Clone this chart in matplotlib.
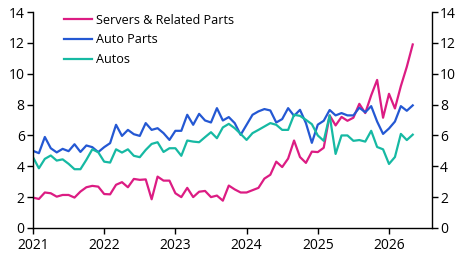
import matplotlib
matplotlib.use("Agg")
import matplotlib.pyplot as plt
import numpy as np

plt.rcParams['font.family'] = ['Open Sans', 'DejaVu Sans']

# Monthly, Jan 2021 .. May 2026
servers = [1.97, 1.88, 2.3, 2.25, 2.03, 2.14, 2.14, 1.97, 2.36, 2.64, 2.73, 2.68,
           2.2, 2.18, 2.8, 2.97, 2.64, 3.18, 3.12, 3.15, 1.86, 3.33, 3.07, 3.07,
           2.25, 2.0, 2.6, 2.0, 2.35, 2.4, 2.0, 2.1, 1.77, 2.75, 2.5, 2.3,
           2.3, 2.45, 2.6, 3.2, 3.45, 4.3, 3.95, 4.5, 5.67, 4.6, 4.22, 4.95,
           4.92, 5.2, 7.3, 6.65, 7.2, 6.95, 7.15, 8.05, 7.45, 8.6, 9.6, 7.15,
           8.7, 7.75, 9.2, 10.45, 11.9]
auto_parts = [5.0, 4.85, 5.9, 5.17, 4.9, 5.13, 4.98, 5.43, 4.93, 5.35, 5.24, 4.92,
              5.24, 5.5, 6.69, 5.97, 6.36, 6.08, 5.97, 6.8, 6.36, 6.47, 6.15, 5.71,
              6.3, 6.3, 7.34, 6.69, 7.4, 6.97, 6.84, 7.77, 6.97, 7.19, 6.8, 6.04,
              6.69, 7.34, 7.56, 7.71, 7.62, 6.84, 7.06, 7.77, 7.27, 7.66, 6.8, 5.52,
              6.7, 6.95, 7.65, 7.3, 7.45, 7.3, 7.3, 7.8, 7.5, 7.9, 6.9, 6.1,
              6.45, 6.9, 7.9, 7.6, 7.95]
autos = [4.59, 3.87, 4.48, 4.7, 4.37, 4.45, 4.16, 3.81, 3.81, 4.42, 5.1, 4.91,
         4.3, 4.24, 5.1, 4.89, 5.1, 4.68, 4.59, 5.06, 5.45, 5.56, 4.93, 5.17,
         5.17, 4.68, 5.67, 5.6, 5.56, 5.89, 6.21, 5.82, 6.52, 6.75, 6.47, 6.1,
         5.71, 6.15, 6.36, 6.58, 6.8, 6.69, 6.36, 6.36, 7.34, 7.27, 7.01, 6.73,
         6.0, 5.65, 7.3, 4.8, 6.0, 6.0, 5.65, 5.7, 5.6, 6.3, 5.25, 5.1,
         4.15, 4.6, 6.1, 5.7, 6.05]
years = ["2021", "2022", "2023", "2024", "2025", "2026"]
yticks = [0, 2, 4, 6, 8, 10, 12, 14]

c_serv = "#DC1C83"
c_ap = "#2458D3"
c_au = "#16B9A3"

fig = plt.figure(figsize=(4.71, 2.57), dpi=100)
ax = fig.add_axes([0.070, 0.113, 0.8466, 0.840])
x = np.arange(len(servers))
ax.plot(x, servers, color=c_serv, lw=1.6, label="Servers & Related Parts")
ax.plot(x, auto_parts, color=c_ap, lw=1.6, label="Auto Parts")
ax.plot(x, autos, color=c_au, lw=1.6, label="Autos")

ax.set_xlim(0, 67.2)
ax.set_ylim(0, 14)
ax.set_yticks(yticks)
ax.set_xticks([12 * i for i in range(len(years))])
ax.set_xticklabels(years)
ax.spines['top'].set_visible(False)
for s in ['left', 'right', 'bottom']:
    ax.spines[s].set_linewidth(1.0)
    ax.spines[s].set_color('black')
ax.tick_params(axis='both', direction='out', length=4, width=1.0, labelsize=10, colors='black')
ax.tick_params(axis='y', right=True, labelright=True, pad=2)
ax.tick_params(axis='x', pad=3)

leg = ax.legend(loc='upper left', bbox_to_anchor=(0.066, 1.015), frameon=False,
                fontsize=9.1, handlelength=2.2, handletextpad=0.3, labelspacing=0.52,
                borderaxespad=0)

fig.savefig("out.png", dpi=100)
